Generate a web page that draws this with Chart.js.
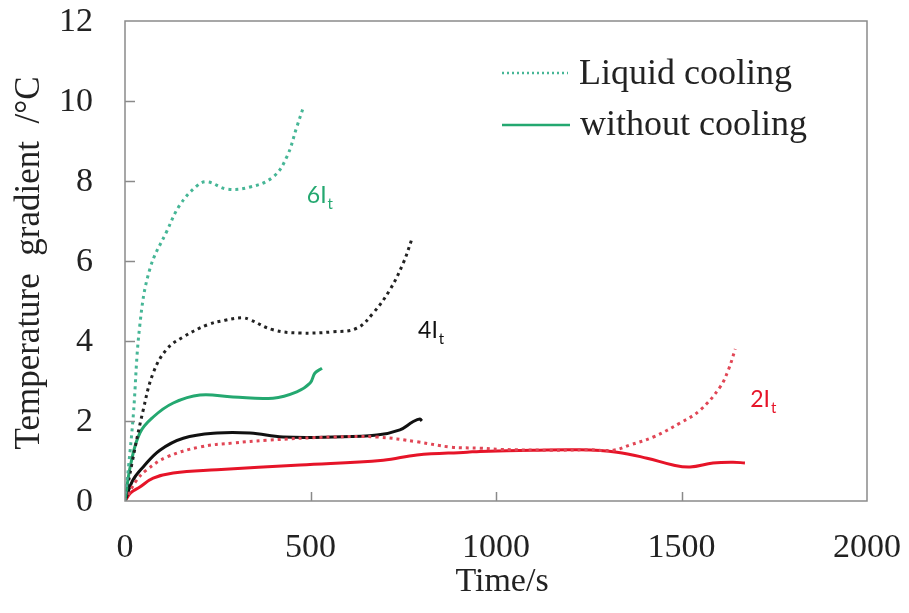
<!DOCTYPE html>
<html>
<head>
<meta charset="utf-8">
<script src="https://cdn.jsdelivr.net/npm/chart.js@4.4.1/dist/chart.umd.min.js"></script>
<style>
  html, body { margin: 0; padding: 0; background: #fff; }
  #chart { display: block; }
</style>
</head>
<body>
<canvas id="chart" width="909" height="613"></canvas>
<script>
// values (time in s, gradient in degC)
var time6Liquid = [0, 10, 22, 40, 67, 113, 148, 194, 221, 275, 337, 399, 436, 463, 481];
var grad6Liquid = [0, 0.9, 2.1, 4.4, 5.8, 6.75, 7.4, 7.88, 7.98, 7.8, 7.85, 8.1, 8.6, 9.35, 9.85];

var time4Liquid = [0, 20, 49, 76, 113, 157, 221, 270, 315, 337, 399, 472, 561, 625, 669, 714, 750, 774];
var grad4Liquid = [0, 1.0, 2.27, 3.2, 3.8, 4.1, 4.4, 4.52, 4.58, 4.53, 4.28, 4.2, 4.23, 4.32, 4.7, 5.28, 5.95, 6.57];

var time2Liquid = [0, 30, 59, 113, 202, 291, 383, 561, 679, 787, 876, 957, 1011, 1150, 1250, 1316, 1361, 1424, 1496, 1550, 1604, 1626, 1645];
var grad2Liquid = [0, 0.5, 0.78, 1.1, 1.35, 1.45, 1.52, 1.6, 1.6, 1.48, 1.35, 1.32, 1.29, 1.27, 1.28, 1.27, 1.4, 1.6, 1.95, 2.27, 2.85, 3.27, 3.8];

var time6None = [0, 15, 40, 76, 130, 202, 291, 399, 463, 499, 512, 531];
var grad6None = [0, 0.9, 1.7, 2.1, 2.45, 2.65, 2.6, 2.57, 2.73, 2.95, 3.2, 3.32];

var time4None = [0, 20, 49, 94, 157, 248, 337, 426, 561, 679, 741, 776, 795, 800];
var grad4None = [0, 0.5, 0.85, 1.27, 1.57, 1.7, 1.7, 1.6, 1.6, 1.65, 1.78, 1.98, 2.05, 2.0];

var time2None = [0, 15, 40, 76, 130, 248, 472, 696, 787, 922, 957, 1100, 1226, 1326, 1407, 1477, 1523, 1585, 1639, 1671];
var grad2None = [0, 0.2, 0.35, 0.57, 0.7, 0.78, 0.9, 1.02, 1.15, 1.22, 1.24, 1.27, 1.28, 1.22, 1.07, 0.9, 0.85, 0.95, 0.97, 0.95];

var xTicks = [0, 500, 1000, 1500, 2000];
var yTicks = [0, 2, 4, 6, 8, 10, 12];

var legendNames = ["Liquid cooling", "without cooling"];
var curveNames = ["6I", "4I", "2I"];
var curveTimes = [490, 790, 1685];
var curveGrads = [7.45, 4.08, 2.35];

var GREEN = "rgb(36,168,112)";
var TEAL = "rgb(70,182,150)";
var RED = "rgb(230,20,40)";
var REDDOT = "rgb(225,70,85)";
var BLACK = "#111";
var SERIF = '"Liberation Serif", "Times New Roman", serif';

function pts(xs, ys) {
    var out = [];
    for (var i = 0; i < xs.length; i++) {
        out.push({ x: xs[i], y: ys[i] });
    }
    return out;
}

function dotted(xs, ys, color) {
    return { data: pts(xs, ys), borderColor: color, borderWidth: 3, borderDash: [3, 4],
             pointRadius: 0, tension: 0.4, fill: false };
}
function solid(xs, ys, color) {
    return { data: pts(xs, ys), borderColor: color, borderWidth: 3,
             pointRadius: 0, tension: 0.4, fill: false };
}

var decor = {
    id: "decor",
    afterDraw: function (chart) {
        var ctx = chart.ctx;
        var a = chart.chartArea;
        var xs = chart.scales.x, ys = chart.scales.y;
        ctx.save();

        // frame
        ctx.strokeStyle = "#8a8a8a";
        ctx.lineWidth = 1.5;
        ctx.strokeRect(a.left, a.top, a.right - a.left, a.bottom - a.top);

        // inward ticks
        ctx.beginPath();
        for (var i = 1; i < xTicks.length - 1; i++) {
            var px = Math.round(xs.getPixelForValue(xTicks[i])) + 0.5;
            ctx.moveTo(px, a.bottom);
            ctx.lineTo(px, a.bottom - 9);
        }
        for (var j = 1; j < yTicks.length - 1; j++) {
            var py = Math.round(ys.getPixelForValue(yTicks[j])) + 0.5;
            ctx.moveTo(a.left, py);
            ctx.lineTo(a.left + 10, py);
        }
        ctx.stroke();

        // tick labels
        ctx.fillStyle = "#222";
        ctx.font = "34px " + SERIF;
        ctx.textAlign = "center";
        ctx.textBaseline = "alphabetic";
        for (var m = 0; m < xTicks.length; m++) {
            ctx.fillText(String(xTicks[m]), xs.getPixelForValue(xTicks[m]), 557);
        }
        ctx.textAlign = "right";
        ctx.textBaseline = "middle";
        for (var n = 0; n < yTicks.length; n++) {
            ctx.fillText(String(yTicks[n]), 93, ys.getPixelForValue(yTicks[n]) + 1);
        }

        // axis titles
        ctx.textAlign = "center";
        ctx.textBaseline = "alphabetic";
        ctx.fillText("Time/s", (a.left + a.right) / 2 + 6, 591);
        ctx.save();
        ctx.font = "35px " + SERIF;
        ctx.translate(39, (a.top + a.bottom) / 2 + 2);
        ctx.rotate(-Math.PI / 2);
        ctx.fillText("Temperature  gradient  /\u00B0C", 0, 0);
        ctx.restore();

        // legend
        ctx.textAlign = "left";
        ctx.lineWidth = 2.5;
        ctx.strokeStyle = TEAL;
        ctx.setLineDash([2, 3]);
        ctx.beginPath();
        ctx.moveTo(502, 73); ctx.lineTo(568, 73);
        ctx.stroke();
        ctx.setLineDash([]);
        ctx.strokeStyle = GREEN;
        ctx.beginPath();
        ctx.moveTo(502, 125); ctx.lineTo(570, 125);
        ctx.stroke();
        ctx.fillStyle = "#222";
        ctx.font = "36px " + SERIF;
        ctx.fillText(legendNames[0], 579, 84);
        ctx.fillText(legendNames[1], 580, 135);

        // curve labels with subscript t
        var colors = [GREEN, BLACK, RED];
        for (var k = 0; k < curveNames.length; k++) {
            var lx = xs.getPixelForValue(curveTimes[k]);
            var ly = ys.getPixelForValue(curveGrads[k]);
            ctx.fillStyle = colors[k];
            ctx.font = "23px Lato, 'Open Sans', sans-serif";
            ctx.fillText(curveNames[k], lx, ly);
            var w = ctx.measureText(curveNames[k]).width;
            ctx.font = "15px Lato, 'Open Sans', sans-serif";
            ctx.fillText("t", lx + w + 1, ly + 6);
        }
        ctx.restore();
    }
};

new Chart(document.getElementById("chart"), {
    type: "line",
    data: {
        datasets: [
            dotted(time6Liquid, grad6Liquid, TEAL),
            dotted(time4Liquid, grad4Liquid, "#222"),
            dotted(time2Liquid, grad2Liquid, REDDOT),
            solid(time6None, grad6None, GREEN),
            solid(time4None, grad4None, BLACK),
            solid(time2None, grad2None, RED)
        ]
    },
    options: {
        responsive: false,
        animation: false,
        layout: { padding: { top: 21, right: 42, left: 0, bottom: 0 } },
        plugins: { legend: { display: false }, tooltip: { enabled: false } },
        scales: {
            x: {
                type: "linear", min: 0, max: 2000,
                afterFit: function (s) { s.height = 112; s.paddingLeft = 0; s.paddingRight = 0; },
                grid: { display: false, drawTicks: false },
                border: { display: false },
                ticks: { display: false }
            },
            y: {
                min: 0, max: 12,
                afterFit: function (s) { s.width = 125; s.paddingTop = 0; s.paddingBottom = 0; },
                grid: { display: false, drawTicks: false },
                border: { display: false },
                ticks: { display: false }
            }
        }
    },
    plugins: [decor]
});
</script>
</body>
</html>
